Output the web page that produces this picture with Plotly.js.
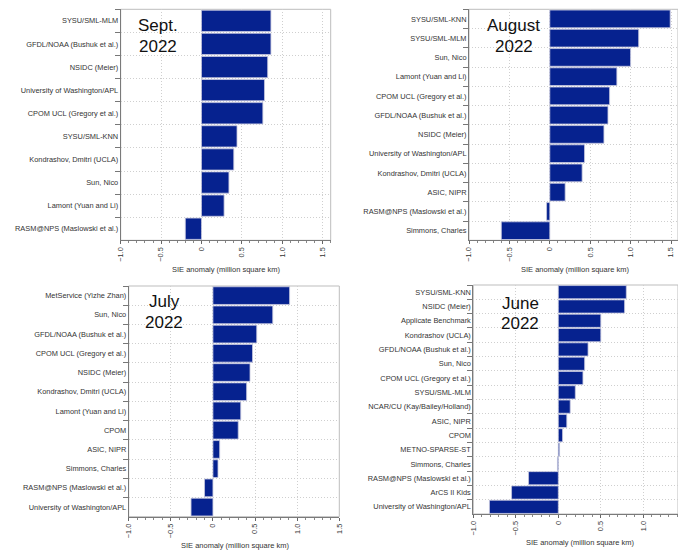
<!DOCTYPE html>
<html>
<head>
<meta charset="utf-8">
<script src="https://cdn.plot.ly/plotly-3.0.1.min.js"></script>
<style>
  html, body { margin: 0; padding: 0; background: #ffffff; }
  #chart { width: 678px; height: 552px; }
</style>
</head>
<body>
<div id="chart"></div>
<script>
// Sea-ice extent (SIE) anomaly forecasts, 2022 outlooks, in million square km.

// September 2022
const septModels = [
  "SYSU/SML-MLM", "GFDL/NOAA (Bushuk et al.)", "NSIDC (Meier)",
  "University of Washington/APL", "CPOM UCL (Gregory et al.)", "SYSU/SML-KNN",
  "Kondrashov, Dmitri (UCLA)", "Sun, Nico", "Lamont (Yuan and Li)",
  "RASM@NPS (Maslowski et al.)"
];
const septAnomaly = [0.86, 0.86, 0.82, 0.78, 0.76, 0.44, 0.40, 0.34, 0.28, -0.20];

// August 2022
const augModels = [
  "SYSU/SML-KNN", "SYSU/SML-MLM", "Sun, Nico", "Lamont (Yuan and Li)",
  "CPOM UCL (Gregory et al.)", "GFDL/NOAA (Bushuk et al.)", "NSIDC (Meier)",
  "University of Washington/APL", "Kondrashov, Dmitri (UCLA)", "ASIC, NIPR",
  "RASM@NPS (Maslowski et al.)", "Simmons, Charles"
];
const augAnomaly = [1.49, 1.10, 1.00, 0.83, 0.74, 0.72, 0.67, 0.43, 0.40, 0.19, -0.04, -0.60];

// July 2022
const julModels = [
  "MetService (Yizhe Zhan)", "Sun, Nico", "GFDL/NOAA (Bushuk et al.)",
  "CPOM UCL (Gregory et al.)", "NSIDC (Meier)", "Kondrashov, Dmitri (UCLA)",
  "Lamont (Yuan and Li)", "CPOM", "ASIC, NIPR", "Simmons, Charles",
  "RASM@NPS (Maslowski et al.)", "University of Washington/APL"
];
const julAnomaly = [0.91, 0.71, 0.52, 0.47, 0.44, 0.40, 0.33, 0.30, 0.08, 0.06, -0.10, -0.26];

// June 2022
const junModels = [
  "SYSU/SML-KNN", "NSIDC (Meier)", "Applicate Benchmark", "Kondrashov (UCLA)",
  "GFDL/NOAA (Bushuk et al.)", "Sun, Nico", "CPOM UCL (Gregory et al.)",
  "SYSU/SML-MLM", "NCAR/CU (Kay/Bailey/Holland)", "ASIC, NIPR", "CPOM",
  "METNO-SPARSE-ST", "Simmons, Charles", "RASM@NPS (Maslowski et al.)",
  "ArCS II Kids", "University of Washington/APL"
];
const junAnomaly = [0.80, 0.78, 0.50, 0.50, 0.35, 0.31, 0.29, 0.20, 0.14, 0.10, 0.05, 0.015, -0.01, -0.35, -0.55, -0.81];

// Shared axis ticks
const tickVals = [-1, -0.5, 0, 0.5, 1, 1.5];
const tickText = ["\u22121.0", "\u22120.5", "0", "0.5", "1.0", "1.5"];
const axisTitle = "SIE anomaly (million square km)";

// ---- page geometry (pixels) ----
const W = 678, H = 552;
const px = v => v / W;
const py = v => 1 - v / H;

const FONT = "Liberation Sans, Arial, sans-serif";
const BAR = "#06228f";
const GRID = "#cfcfcf";
const DOTS = "1px,2px";

// Each panel: plot box in pixels and x range
const panels = [
  { name: ["Sept.", "2022"], models: septModels, values: septAnomaly,
    box: [120.7, 330.7, 9.3, 240.3], range: [-1, 1.6],
    titleX: 158, titleY: [25.7, 46.2], xTitle: [225.7, 269] },
  { name: ["August", "2022"], models: augModels, values: augAnomaly,
    box: [469, 678, 9.3, 240.3], range: [-1, -1 + (678 - 469) / 80.8],
    titleX: 513.8, titleY: [25.7, 46.7], xTitle: [574.7, 269] },
  { name: ["July", "2022"], models: julModels, values: julAnomaly,
    box: [128.7, 339.3, 286, 516.7], range: [-1, 1.5],
    titleX: 164, titleY: [301.7, 322.2], xTitle: [234.7, 545.3] },
  { name: ["June", "2022"], models: junModels, values: junAnomaly,
    box: [473.3, 678, 285, 514], range: [-1, -1 + (678 - 473.3) / 85],
    titleX: 520, titleY: [303, 323], xTitle: [579.7, 542.3] }
];

const data = [];
const layout = {
  width: W, height: H,
  margin: { l: 0, r: 0, t: 0, b: 0, pad: 0 },
  paper_bgcolor: "#ffffff", plot_bgcolor: "#ffffff",
  showlegend: false,
  bargap: 0.08,
  font: { family: FONT, size: 7.4, color: "#333333" },
  annotations: [],
  shapes: []
};

panels.forEach((p, i) => {
  const n = i === 0 ? "" : String(i + 1);
  const xa = "x" + n, ya = "y" + n;
  const [x0, x1, y0, y1] = p.box;

  data.push({
    type: "bar", orientation: "h",
    x: p.values, y: p.models,
    xaxis: xa, yaxis: ya,
    marker: { color: BAR, line: { color: "#c6c8de", width: 0.8 } },
    hoverinfo: "x+y"
  });

  layout["xaxis" + n] = {
    domain: [px(x0), px(x1)], anchor: ya,
    range: p.range, fixedrange: true,
    tickmode: "array", tickvals: tickVals, ticktext: tickText,
    tickangle: -90, ticks: "outside", ticklen: 3, tickcolor: "#666666",
    minor: { tickmode: "linear", tick0: 0, dtick: 0.1, ticks: "outside", ticklen: 1.8, tickcolor: "#888888", showgrid: false },
    showgrid: true, gridcolor: GRID, griddash: DOTS, gridwidth: 1,
    zeroline: false, showline: true, linecolor: "#7a7a7a", linewidth: 1,
    tickfont: { family: FONT, size: 7.4, color: "#333333" }
  };
  layout["yaxis" + n] = {
    domain: [py(y1), py(y0)], anchor: xa,
    type: "category", autorange: "reversed", fixedrange: true,
    tickson: "boundaries", ticks: "outside", ticklen: 5, tickcolor: "#777777",
    showgrid: true, gridcolor: GRID, griddash: DOTS, gridwidth: 1,
    zeroline: false, showline: true, linecolor: "#7a7a7a", linewidth: 1,
    tickfont: { family: FONT, size: 7.4, color: "#333333" }
  };

  // light frame around the plotting region
  layout.shapes.push({
    type: "rect", xref: xa + " domain", yref: ya + " domain",
    x0: 0, x1: 1, y0: 0, y1: 1, layer: "below",
    line: { color: "#bdbdbd", width: 1 }
  });

  // month / year heading inside the plot
  p.name.forEach((line, k) => {
    layout.annotations.push({
      xref: "paper", yref: "paper",
      x: px(p.titleX), y: py(p.titleY[k]),
      xanchor: "center", yanchor: "middle",
      text: line, showarrow: false,
      font: { family: FONT, size: 17, color: "#111111" }
    });
  });

  // x axis title
  layout.annotations.push({
    xref: "paper", yref: "paper",
    x: px(p.xTitle[0]), y: py(p.xTitle[1]),
    xanchor: "center", yanchor: "middle",
    text: axisTitle, showarrow: false,
    font: { family: FONT, size: 7.5, color: "#333333" }
  });
});

Plotly.newPlot("chart", data, layout, { displayModeBar: false, staticPlot: true });
</script>
</body>
</html>
